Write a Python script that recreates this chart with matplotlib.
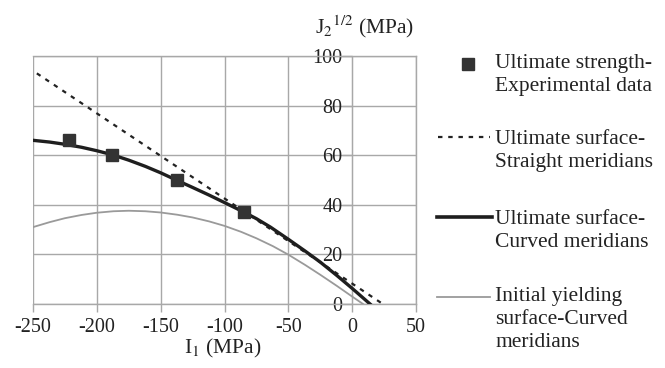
import matplotlib
matplotlib.use("Agg")
import matplotlib.pyplot as plt
from matplotlib.lines import Line2D

plt.rcParams['font.family'] = ['Liberation Serif', 'DejaVu Serif']
plt.rcParams['mathtext.fontset'] = 'stix'

# experimental ultimate strength points
exp_i1 = [-222, -188, -137, -85]
exp_j2 = [66, 60.2, 49.8, 37.1]

# ultimate surface, straight meridians
straight_i1 = [-247, 24]
straight_j2 = [93, 0]

# ultimate surface, curved meridians
curved_i1 = [-250, -237, -225, -212, -200, -188, -175, -162, -150, -137, -125, -112,
             -100, -85, -75, -64, -50, -37, -25, -12, 0, 7, 14]
curved_j2 = [66.0, 65.3, 64.4, 63.2, 61.8, 60.2, 58.0, 55.5, 52.9, 49.8, 47.0, 43.9,
             40.9, 37.1, 34.4, 31.0, 26.1, 21.4, 16.9, 11.5, 6.3, 3.15, 0]

# initial yielding surface, curved meridians
yield_i1 = [-250, -237, -225, -212, -200, -187, -175, -162, -150, -137, -125, -112,
            -100, -87, -75, -62, -50, -37, -25, -12, 0, 8.5]
yield_j2 = [31.0, 33.0, 34.6, 35.9, 36.8, 37.4, 37.6, 37.4, 36.9, 36.0, 34.9, 33.3,
            31.5, 29.1, 26.5, 23.3, 19.9, 15.8, 11.8, 7.3, 3.0, 0]

xticks = [-250, -200, -150, -100, -50, 0, 50]
yticks = [0, 20, 40, 60, 80, 100]

W, H = 665, 368
fig = plt.figure(figsize=(W / 100, H / 100), dpi=100)
ax = fig.add_axes([33 / W, 64 / H, 383 / W, 248 / H])

grid_c = '#a8a8a8'
ax.plot(yield_i1, yield_j2, color='#9a9a9a', lw=1.3, zorder=3)
ax.plot(straight_i1, straight_j2, color='#222222', lw=1.6, ls=(0, (2, 2.6)), zorder=4)
ax.plot(curved_i1, curved_j2, color='#1e1e1e', lw=2.4, zorder=5, solid_joinstyle='round')
ax.plot(exp_i1, exp_j2, 's', color='#333333', ms=9, zorder=6)

ax.set_xlim(-250, 50)
ax.set_ylim(0, 100)
ax.set_xticks(xticks)
ax.set_yticks(yticks)
ax.grid(True, color=grid_c, lw=1.0)
ax.set_axisbelow(True)
for s in ['top', 'right', 'bottom']:
    ax.spines[s].set_color(grid_c)
    ax.spines[s].set_linewidth(1.0)
ax.spines['left'].set_position(('data', 0))
ax.spines['left'].set_color(grid_c)
ax.tick_params(axis='both', colors=grid_c, labelcolor='#222222', labelsize=14.5, width=1.0)
ax.tick_params(axis='y', length=7, pad=0)
ax.tick_params(axis='x', length=6, pad=4)
ax.set_xticklabels([str(v) for v in xticks])

fig.text(315 / W, 1 - 33 / H, 'J$_2$$^{1/2}$ (MPa)', fontsize=15.5, va='baseline', ha='left', color='#222222')
fig.text(223 / W, 1 - 353 / H, 'I$_1$ (MPa)', fontsize=15.5, va='baseline', ha='center', color='#222222')

# legend drawn by hand so that the key sits at the first text line
def fx(px):
    return px / W

def fy(py):
    return 1 - py / H

entries = [
    ('marker', 63.5, 69, 'Ultimate strength-\nExperimental data'),
    ('dotted', 137, 145, 'Ultimate surface-\nStraight meridians'),
    ('thick', 217, 225, 'Ultimate surface-\nCurved meridians'),
    ('thin', 297, 302, 'Initial yielding\nsurface-Curved\nmeridians'),
]
for kind, hy, by, label in entries:
    if kind == 'marker':
        fig.add_artist(Line2D([fx(468)], [fy(hy)], marker='s', color='#333333', ms=8, ls='none'))
    elif kind == 'dotted':
        fig.add_artist(Line2D([fx(438), fx(490)], [fy(hy), fy(hy)], color='#222222', lw=1.6, ls=(0, (2, 2.6))))
    elif kind == 'thick':
        fig.add_artist(Line2D([fx(437), fx(492)], [fy(hy), fy(hy)], color='#1e1e1e', lw=2.6))
    else:
        fig.add_artist(Line2D([fx(437), fx(490)], [fy(hy), fy(hy)], color='#9a9a9a', lw=1.3))
    fig.text(fx(495), fy(by - 15), label, fontsize=15.5, va='top', ha='left',
             color='#222222', linespacing=1.3)

fig.savefig('out.png', dpi=100)
